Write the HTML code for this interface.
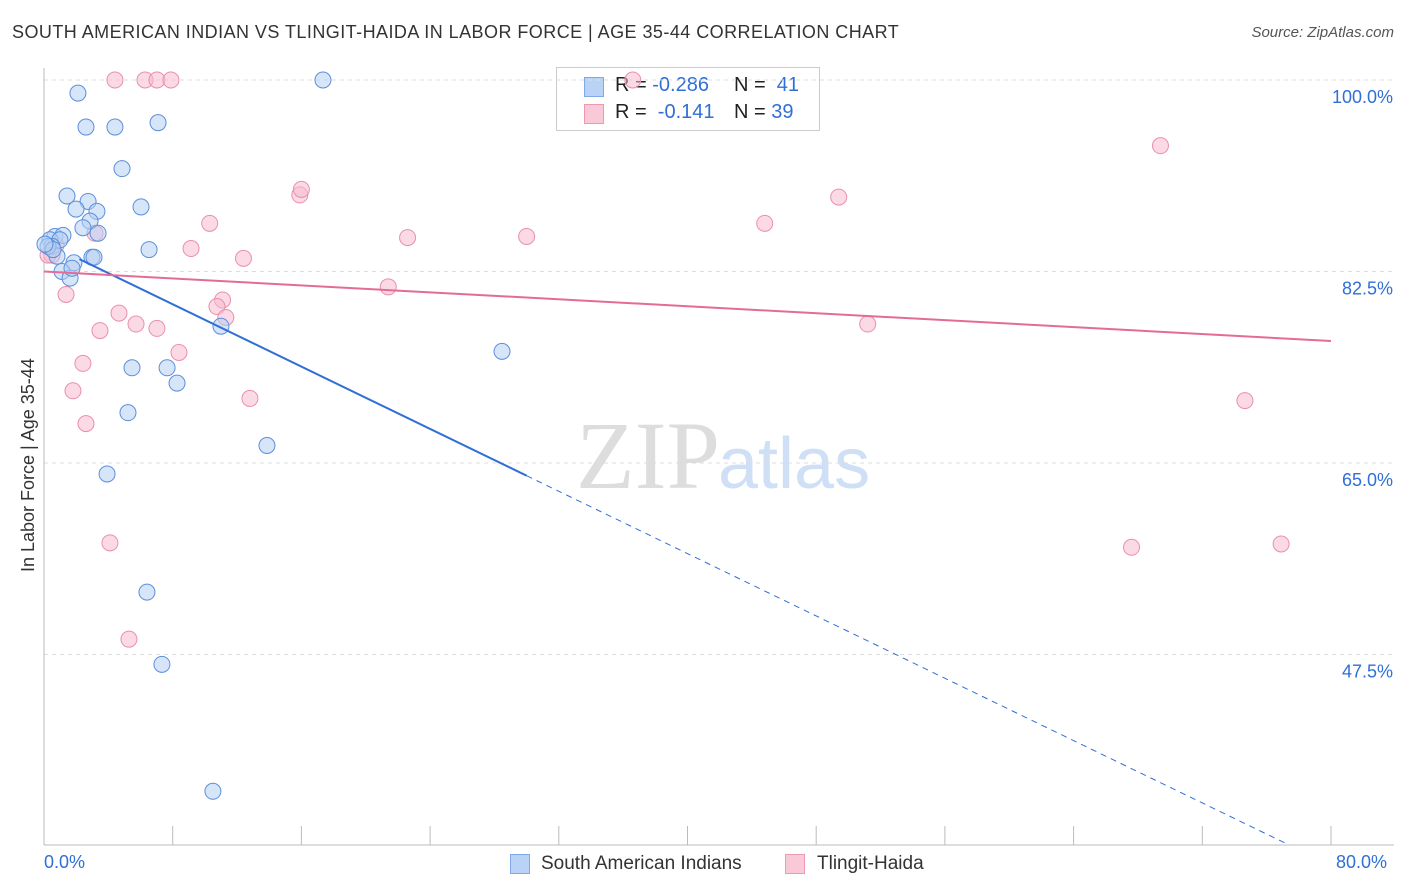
<!DOCTYPE html>
<html><head><meta charset="utf-8"><style>
body{margin:0;background:#fff;font-family:"Liberation Sans",sans-serif;}
#wrap{position:relative;width:1406px;height:892px;overflow:hidden;}
.t{position:absolute;white-space:nowrap;}
</style></head><body>
<div id="wrap">
<div class="t" style="left:12px;top:22px;font-size:18px;letter-spacing:0.45px;color:#333;">SOUTH AMERICAN INDIAN VS TLINGIT-HAIDA IN LABOR FORCE | AGE 35-44 CORRELATION CHART</div>
<div class="t" style="right:12px;top:24px;font-size:15px;color:#555;font-style:italic;">Source: ZipAtlas.com</div>
<div class="t" style="left:556px;top:67px;width:262px;height:62px;border:1px solid #ccc;background:#fff;font-size:20px;">
<div style="position:absolute;left:27px;top:9px;width:18px;height:18px;background:#b9d3f7;border:1px solid #7fa9e8"></div>
<div style="position:absolute;left:58px;top:6px;color:#222">R = <span style="color:#2f6fd6">-0.286</span></div>
<div style="position:absolute;left:177px;top:6px;color:#222">N = <span style="color:#2f6fd6">&nbsp;41</span></div>
<div style="position:absolute;left:27px;top:36px;width:18px;height:18px;background:#f9c9d7;border:1px solid #eb9ab2"></div>
<div style="position:absolute;left:58px;top:33px;color:#222">R = &nbsp;<span style="color:#2f6fd6">-0.141</span></div>
<div style="position:absolute;left:177px;top:33px;color:#222">N = <span style="color:#2f6fd6">39</span></div>
</div>
<svg id="svg" width="1406" height="892" style="position:absolute;left:0;top:0">
<text x="720" y="488" font-family="Liberation Serif" font-size="96" fill="#ddd" text-anchor="end">ZIP</text>
<text x="718" y="488" font-family="Liberation Sans" font-size="72" fill="#cfdff5">atlas</text>
</svg>
<div class="t" style="left:18px;top:572px;transform:rotate(-90deg);transform-origin:0 0;font-size:18px;color:#333;">In Labor Force | Age 35-44</div>
<div class="t" style="left:44px;top:852px;font-size:18px;color:#2f6fd6">0.0%</div>
<div class="t" style="left:1336px;top:852px;font-size:18px;color:#2f6fd6">80.0%</div>
<div class="t" style="left:510px;top:854px;width:18px;height:18px;background:#b9d3f7;border:1px solid #7fa9e8"></div>
<div class="t" style="left:541px;top:853px;font-size:19px;color:#333">South American Indians</div>
<div class="t" style="left:785px;top:854px;width:18px;height:18px;background:#f9c9d7;border:1px solid #eb9ab2"></div>
<div class="t" style="left:817px;top:853px;font-size:19px;color:#333">Tlingit-Haida</div>
</div>
<script>
const blueX=[2.11,2.61,4.41,7.09,17.34,4.85,1.43,2.74,1.99,3.29,6.03,2.86,2.42,3.36,0.68,1.18,0.37,0.99,0.50,6.53,0.81,2.98,3.11,1.86,1.12,1.62,11.0,28.47,5.47,7.65,8.27,5.22,13.86,3.92,6.40,7.33,10.5,0.25,0.56,1.74,0.06];
const blueY=[98.8,95.7,95.7,96.1,100,91.9,89.4,88.9,88.2,88.0,88.4,87.1,86.5,86.0,85.7,85.8,85.4,85.4,84.8,84.5,83.9,83.8,83.8,83.3,82.5,81.9,77.5,75.2,73.7,73.7,72.3,69.6,66.6,64.0,53.2,46.6,35.0,84.8,84.5,82.8,85.0];
const pinkX=[4.41,6.28,7.02,7.89,36.6,69.4,15.9,16.0,49.4,10.3,44.8,3.17,30.0,22.6,9.14,12.4,0.5,21.4,1.37,11.1,10.75,11.3,4.66,5.72,7.02,3.48,51.2,8.39,2.42,1.80,12.8,74.65,2.61,4.10,67.6,76.9,5.28,0.25,0.75];
const pinkY=[100,100,100,100,100,94.0,89.5,90.0,89.3,86.9,86.9,86.0,85.7,85.6,84.6,83.7,84.0,81.1,80.4,79.9,79.3,78.3,78.7,77.7,77.3,77.1,77.7,75.1,74.1,71.6,70.9,70.7,68.6,57.7,57.3,57.6,48.9,84.0,84.9];
const blueTrend=[85.2,-0.712];
const pinkTrend=[82.5,-0.0794];
const yTicks=[100,82.5,65,47.5];
const yTickLabels=["100.0%","82.5%","65.0%","47.5%"];
const xTicks=[8,16,24,32,40,48,56,64,72,80];
const X=v=>44+v*1287/80, Y=v=>80+(100-v)*191.5/17.5;
const svg=document.getElementById('svg'),NS='http://www.w3.org/2000/svg';
function mk(t,a,name){const e=document.createElementNS(NS,t);for(const k in a)e.setAttribute(k,a[k]);


svg.appendChild(e);return e;}
yTicks.forEach((v,i)=>{mk('line',{x1:44,x2:1394,y1:Y(v),y2:Y(v),stroke:'#ddd','stroke-dasharray':'4,4'},'y-gridline');
const t=mk('text',{x:1393,y:Y(v)+23,'text-anchor':'end','font-size':18,fill:'#2f6fd6','font-family':'Liberation Sans'},'y-tick-label');t.textContent=yTickLabels[i];});
mk('line',{x1:44,x2:44,y1:68,y2:845,stroke:'#bbb'},'y-axis');
mk('line',{x1:44,x2:1394,y1:845,y2:845,stroke:'#bbb'},'x-axis');
xTicks.forEach(v=>mk('line',{x1:X(v),x2:X(v),y1:826,y2:845,stroke:'#bbb'},'x-tick'));
function dots(xs,ys,f,s,n){xs.forEach((x,i)=>mk('circle',{cx:X(x),cy:Y(ys[i]),r:8,fill:f,stroke:s,'stroke-width':1,'fill-opacity':0.55},n));}
dots(pinkX,pinkY,'#f7bcd0','#e98fad','point-tlingit');
dots(blueX,blueY,'#b6cff3','#5b8fdc','point-south-american');
const bf=x=>blueTrend[0]+blueTrend[1]*x, pf=x=>pinkTrend[0]+pinkTrend[1]*x;
mk('line',{x1:X(2.2),y1:Y(bf(2.2)),x2:X(30),y2:Y(bf(30)),stroke:'#2f6fd6','stroke-width':2},'trend-south-american');
const xe=(30.1-blueTrend[0])/blueTrend[1];
mk('line',{x1:X(30),y1:Y(bf(30)),x2:X(xe),y2:Y(bf(xe)),stroke:'#2f6fd6','stroke-width':1,'stroke-dasharray':'6,5'},'trend-south-american-ext');
mk('line',{x1:X(0),y1:Y(pf(0)),x2:X(80),y2:Y(pf(80)),stroke:'#e46b95','stroke-width':2},'trend-tlingit');
</script>
</body></html>
